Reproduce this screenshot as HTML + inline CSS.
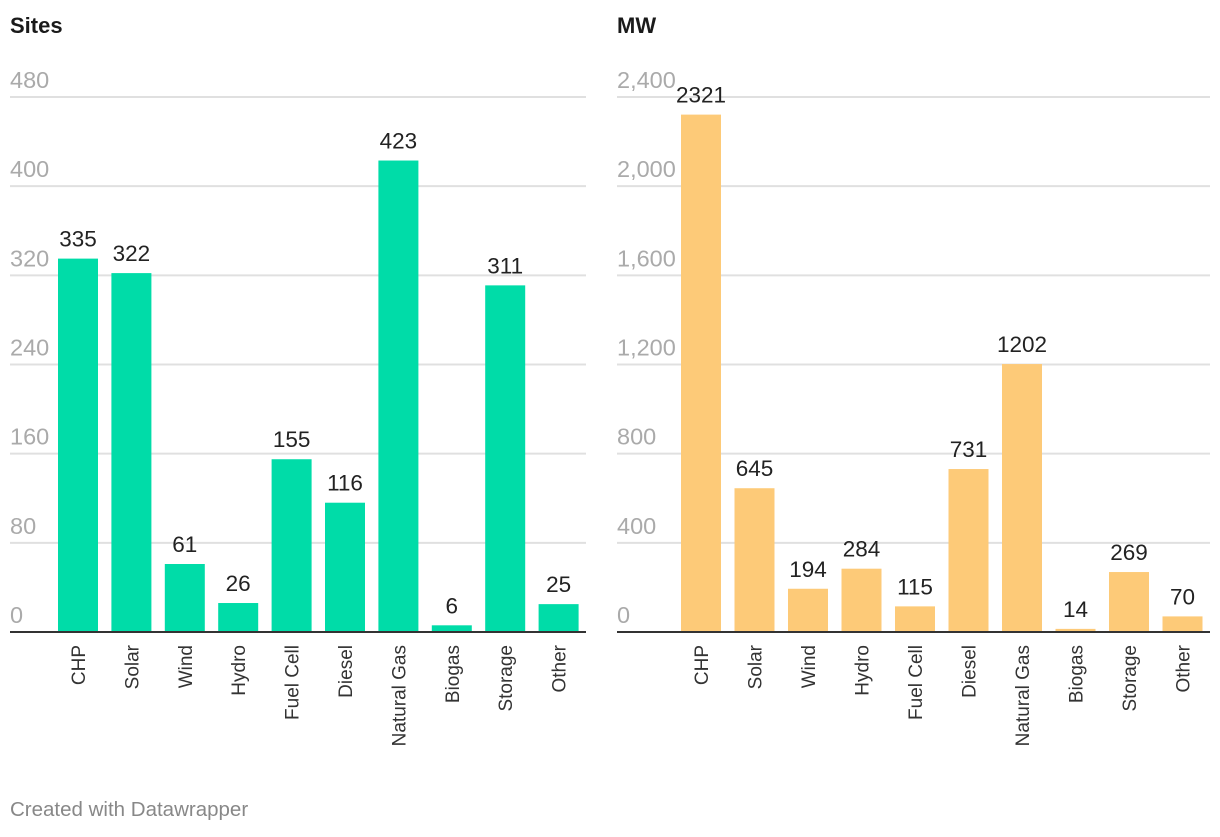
<!DOCTYPE html>
<html><head><meta charset="utf-8"><style>
body{margin:0;background:#fff;font-family:"Liberation Sans",sans-serif;}
svg text{font-family:"Liberation Sans",sans-serif;}
</style></head><body>
<svg id="c" width="1220" height="832">
<text x="10" y="33" font-size="22" font-weight="bold" fill="#1a1a1a">Sites</text>
<text x="617" y="33" font-size="22" font-weight="bold" fill="#1a1a1a">MW</text>
<text x="10" y="816" font-size="20.5" fill="#888">Created with Datawrapper</text>
</svg>
<script>
const categories=["CHP","Solar","Wind","Hydro","Fuel Cell","Diesel","Natural Gas","Biogas","Storage","Other"];
const sitesValues=[335,322,61,26,155,116,423,6,311,25];
const mwValues=[2321,645,194,284,115,731,1202,14,269,70];
const sitesTicks=[0,80,160,240,320,400,480];
const mwTicks=[0,400,800,1200,1600,2000,2400];
const mwTickLabels=["0","400","800","1,200","1,600","2,000","2,400"];
const svg=document.getElementById('c');
const NS='http://www.w3.org/2000/svg';
function mk(t,a,txt){const e=document.createElementNS(NS,t);for(const k in a)e.setAttribute(k,a[k]);if(txt!==undefined)e.textContent=txt;svg.appendChild(e);return e;}
function draw(p,vals,ticks,labels,color){
  const y0=632,yTop=97,max=ticks[ticks.length-1];
  const y=v=>y0-(v/max)*(y0-yTop);
  const x=i=>p.c0+i*p.step;
  ticks.forEach((t,i)=>{
    if(i>0){const g=mk('line',{x1:p.gx0,x2:p.gx1,y1:y(t),y2:y(t),stroke:'#e0e0e0','stroke-width':2});
    
    }
    const l=mk('text',{x:p.gx0,y:y(t)-9,'font-size':23.5,fill:'#aaa'},labels[i]);
    
    
  });
  vals.forEach((v,i)=>{
    const b=mk('rect',{x:x(i)-20,y:y(v),width:40,height:y0-y(v),fill:color});
    
    
    const t=mk('text',{x:x(i),y:y(v)-12,'font-size':22.5,fill:'#222','text-anchor':'middle'},String(v));
    
    
    const c=mk('text',{transform:`translate(${x(i)+7},645) rotate(-90)`,'font-size':19,fill:'#333','text-anchor':'end'},categories[i]);
    
    
  });
  const a=mk('line',{x1:p.gx0,x2:p.gx1,y1:y0,y2:y0,stroke:'#333','stroke-width':2});
  
  
}
draw({id:'sites',c0:78,step:53.4,gx0:10,gx1:586},sitesValues,sitesTicks,sitesTicks.map(String),'#00dca8');
draw({id:'mw',c0:701,step:53.5,gx0:617,gx1:1210},mwValues,mwTicks,mwTickLabels,'#fdca78');
</script>
</body></html>
